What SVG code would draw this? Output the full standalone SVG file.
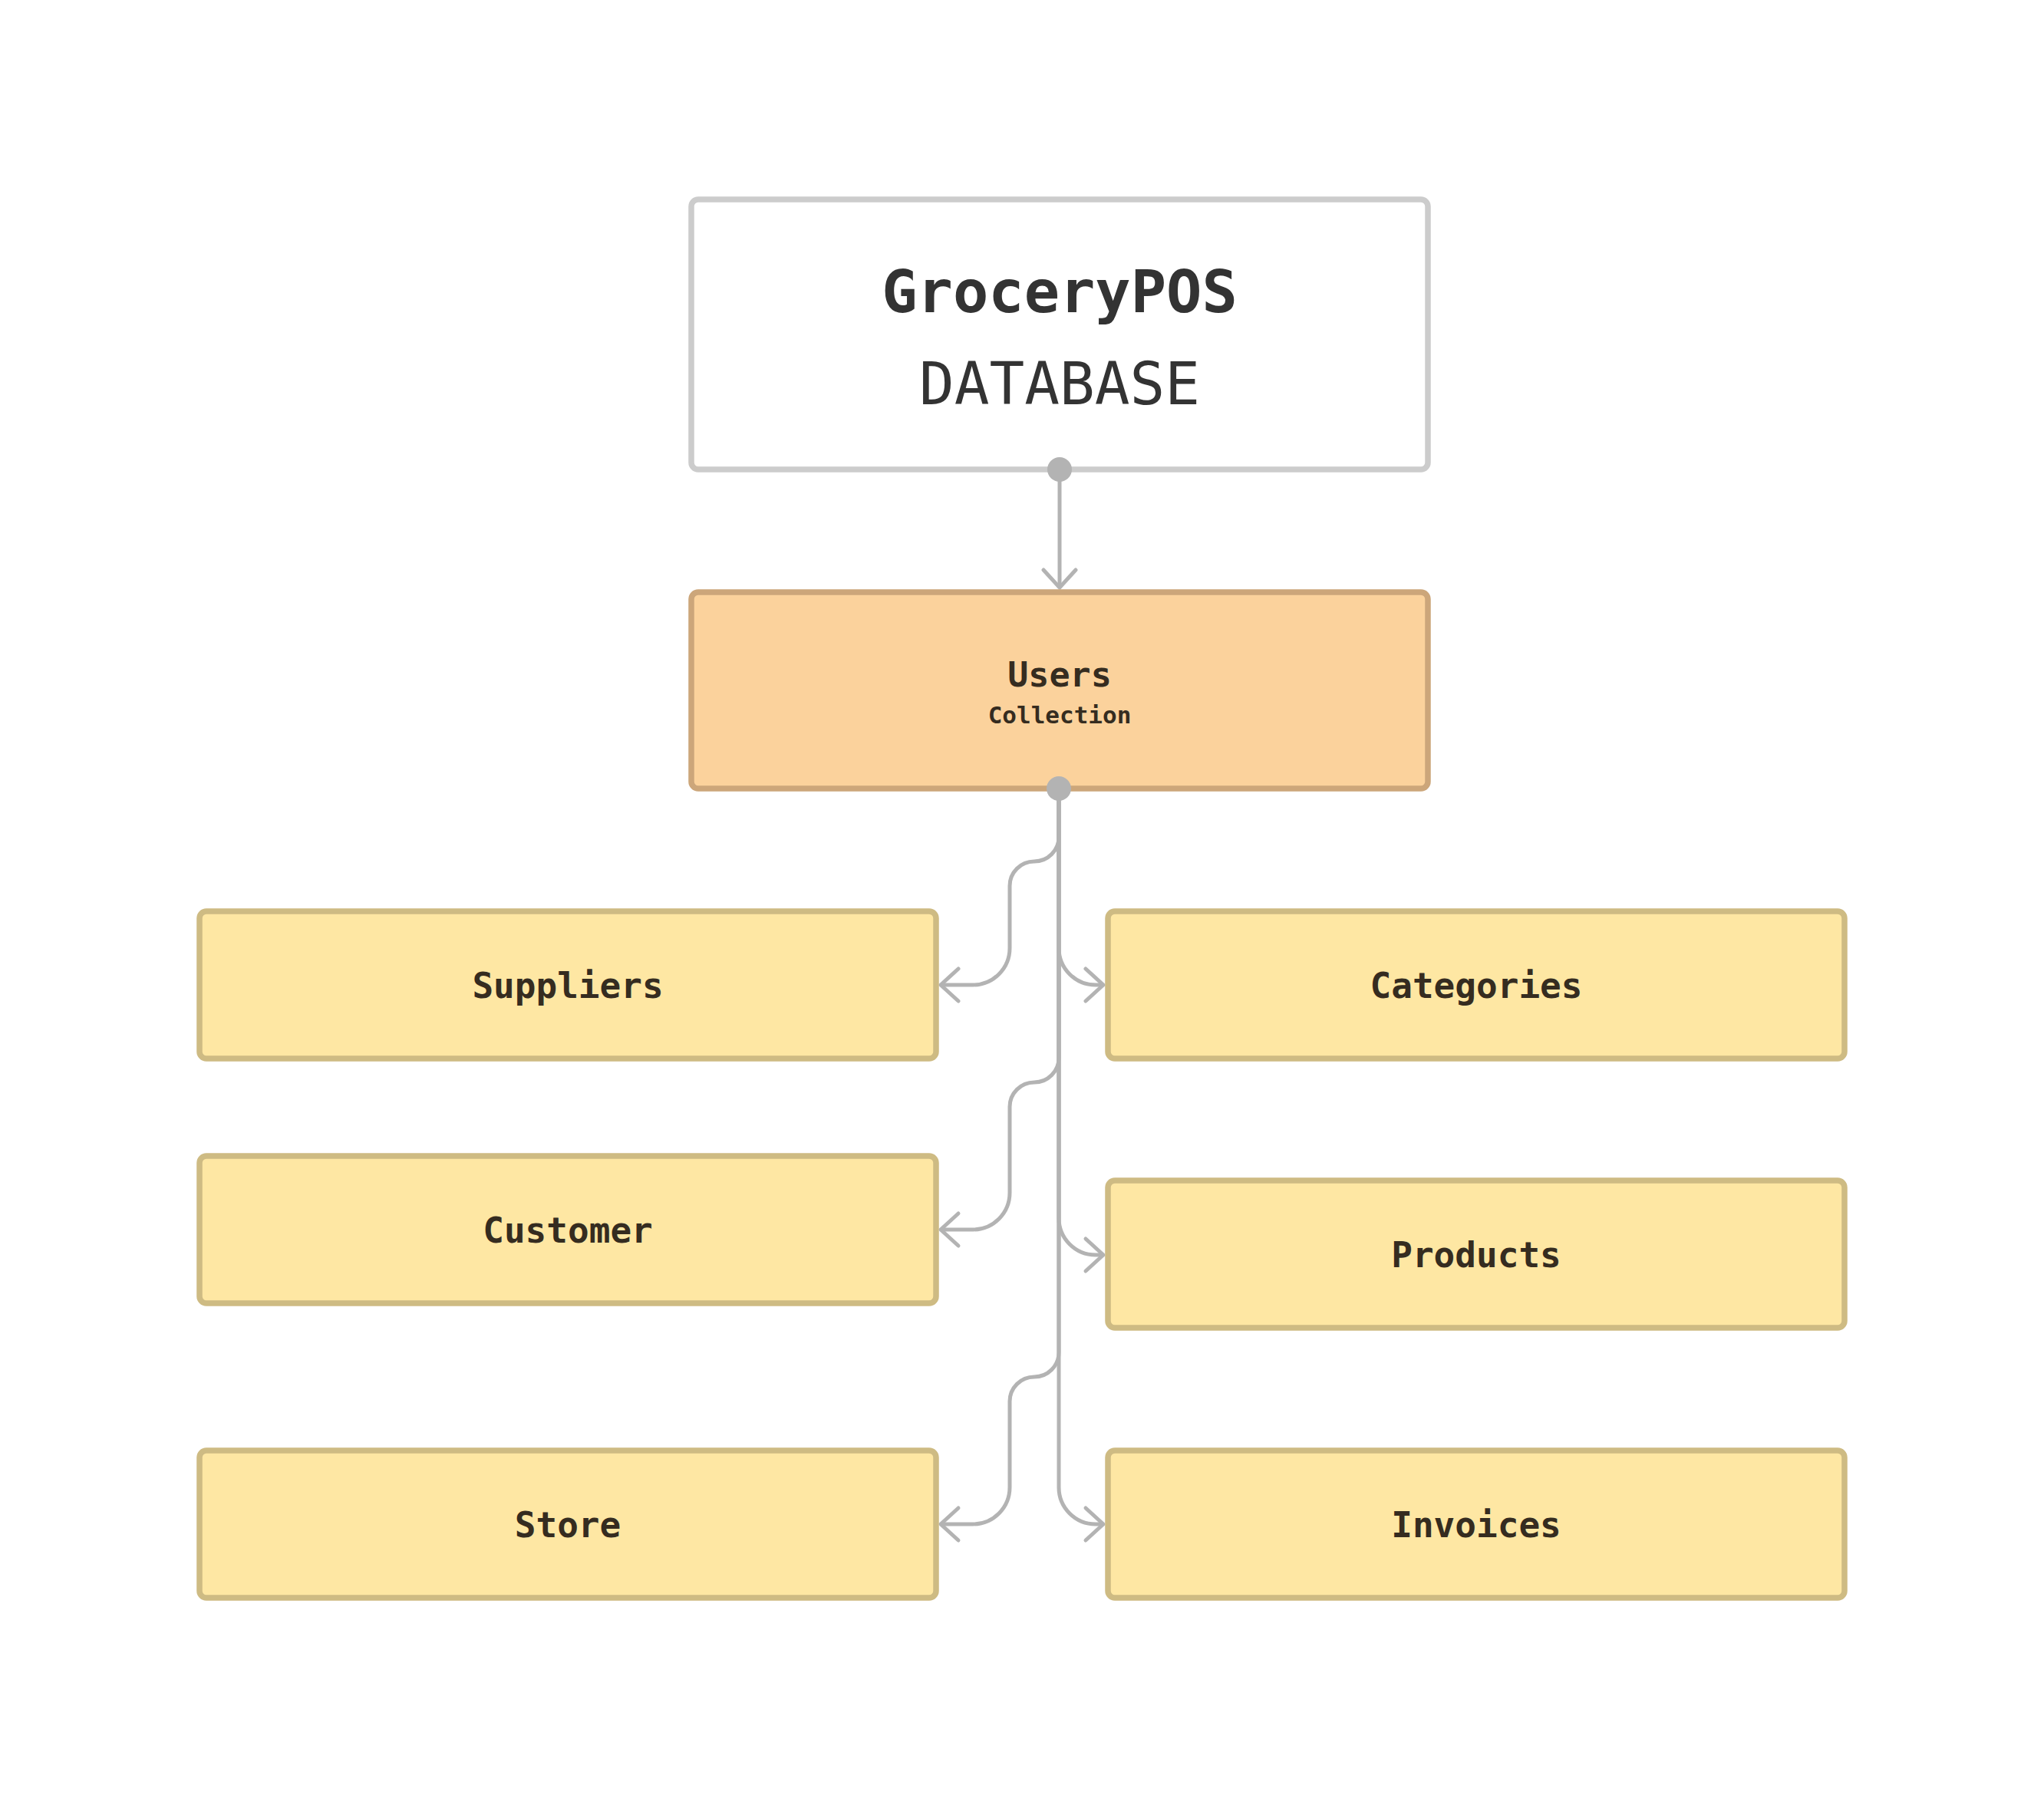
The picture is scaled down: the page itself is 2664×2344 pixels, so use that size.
<svg xmlns="http://www.w3.org/2000/svg" width="2664" height="2344" viewBox="0 0 2664 2344">
<style>
  .mono { font-family: "DejaVu Sans Mono", "Liberation Mono", monospace; text-anchor: middle; }
  .db { fill: #ffffff; stroke: #cccccc; stroke-width: 7.5; }
  .coll { fill: #fbd29c; stroke: #cca67a; stroke-width: 7.5; }
  .ent { fill: #fee7a3; stroke: #cebb83; stroke-width: 7.5; }
  .lbl { font-size: 46px; font-weight: bold; fill: #352c20; }
  .conn { fill: none; stroke: #b3b3b3; stroke-width: 5; stroke-linejoin: round; }
  .dot { fill: #b3b3b3; }
</style>
<defs>
  <marker id="arrow" markerUnits="userSpaceOnUse" markerWidth="60" markerHeight="60" viewBox="-30 -30 60 60" refX="0" refY="0" orient="auto" overflow="visible">
    <path d="M-23,-21 L0,0 L-23,21" fill="none" stroke="#b3b3b3" stroke-width="5" stroke-linecap="round" stroke-linejoin="round"/>
  </marker>
</defs>
<rect width="2664" height="2344" fill="#ffffff"/>

<g id="connectors">
  <path class="conn" d="M1381,612 V766" marker-end="url(#arrow)"/>
  <path class="conn" d="M1380,1028 V1091 A32,32 0 0 1 1348,1123 A32,32 0 0 0 1316,1155 V1236 A48,48 0 0 1 1268,1284 H1226" marker-end="url(#arrow)"/>
  <path class="conn" d="M1380,1028 V1236 A48,48 0 0 0 1428,1284 H1438" marker-end="url(#arrow)"/>
  <path class="conn" d="M1380,1028 V1379 A32,32 0 0 1 1348,1411 A32,32 0 0 0 1316,1443 V1555 A48,48 0 0 1 1268,1603 H1226" marker-end="url(#arrow)"/>
  <path class="conn" d="M1380,1028 V1588 A48,48 0 0 0 1428,1636 H1438" marker-end="url(#arrow)"/>
  <path class="conn" d="M1380,1028 V1763 A32,32 0 0 1 1348,1795 A32,32 0 0 0 1316,1827 V1939 A48,48 0 0 1 1268,1987 H1226" marker-end="url(#arrow)"/>
  <path class="conn" d="M1380,1028 V1939 A48,48 0 0 0 1428,1987 H1438" marker-end="url(#arrow)"/>
</g>

<g id="node-database">
  <rect class="db" x="901" y="260" width="960" height="352" rx="9"/>
  <text class="mono" x="1381" y="407" font-size="77" font-weight="bold" fill="#333333">GroceryPOS</text>
  <text class="mono" x="1381" y="527" font-size="76" fill="#333333">DATABASE</text>
</g>

<g id="node-users">
  <rect class="coll" x="901" y="772" width="960" height="256" rx="9"/>
  <text class="mono" x="1381" y="895" font-size="45" font-weight="bold" fill="#352c20">Users</text>
  <text class="mono" x="1381" y="943" font-size="31" font-weight="bold" fill="#352c20">Collection</text>
</g>

<g id="node-suppliers">
  <rect class="ent" x="260" y="1188" width="960" height="192" rx="9"/>
  <text class="mono lbl" x="740" y="1301">Suppliers</text>
</g>

<g id="node-categories">
  <rect class="ent" x="1444" y="1188" width="960" height="192" rx="9"/>
  <text class="mono lbl" x="1924" y="1301">Categories</text>
</g>

<g id="node-customer">
  <rect class="ent" x="260" y="1507" width="960" height="192" rx="9"/>
  <text class="mono lbl" x="740" y="1620">Customer</text>
</g>

<g id="node-products">
  <rect class="ent" x="1444" y="1539" width="960" height="192" rx="9"/>
  <text class="mono lbl" x="1924" y="1652">Products</text>
</g>

<g id="node-store">
  <rect class="ent" x="260" y="1891" width="960" height="192" rx="9"/>
  <text class="mono lbl" x="740" y="2004">Store</text>
</g>

<g id="node-invoices">
  <rect class="ent" x="1444" y="1891" width="960" height="192" rx="9"/>
  <text class="mono lbl" x="1924" y="2004">Invoices</text>
</g>

<g id="ports">
  <circle class="dot" cx="1381" cy="612" r="16"/>
  <circle class="dot" cx="1380" cy="1028" r="16"/>
</g>
</svg>
